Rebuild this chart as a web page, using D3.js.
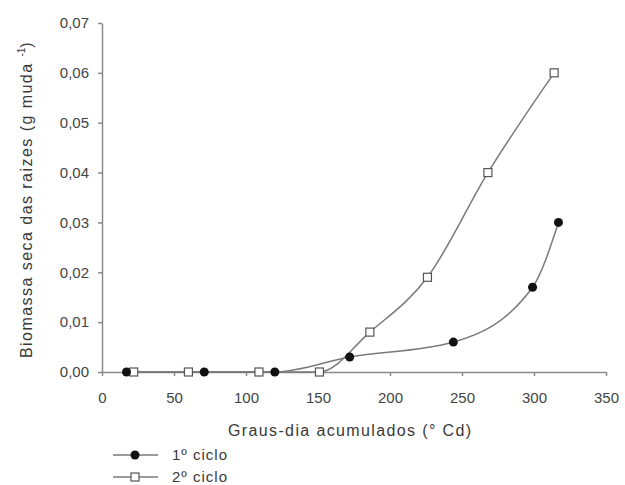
<!DOCTYPE html>
<html>
<head>
<meta charset="utf-8">
<script src="https://cdn.jsdelivr.net/npm/d3@7"></script>
<style>
body { margin: 0; background: #fff; }
text { font-family: "Liberation Sans", Arial, sans-serif; fill: #3a3a3a; }
</style>
</head>
<body>
<script>
// data
var ciclo1X = [17, 71, 120, 172, 244, 299, 317];
var ciclo1Y = [0, 0, 0, 0.003, 0.006, 0.017, 0.030];
var ciclo2X = [22, 60, 109, 151, 186, 226, 268, 314];
var ciclo2Y = [0, 0, 0, 0, 0.008, 0.019, 0.040, 0.060];
var xTicks = [0, 50, 100, 150, 200, 250, 300, 350];
var yTicks = [0, 0.01, 0.02, 0.03, 0.04, 0.05, 0.06, 0.07];
var legendLabels = ["1º ciclo", "2º ciclo"];

var width = 625, height = 485;
var plotLeft = 102, plotRight = 606, plotTop = 23, plotBottom = 372;
var axisColor = "#8a8a8a";
var lineColor = "#7a7a7a";

var svg = d3.select("body").append("svg")
    .attr("width", width)
    .attr("height", height);

var x = d3.scaleLinear().domain([0, 350]).range([plotLeft, plotRight]);
var y = d3.scaleLinear().domain([0, 0.07]).range([plotBottom, plotTop]);

var fmt = function(d){ return d3.format(".2f")(d).replace(".", ","); };

//*********** axes *******************
var gx = svg.append("g")
    .attr("transform", "translate(0," + plotBottom + ")")
    .call(d3.axisBottom(x).tickValues(xTicks).tickSize(4).tickPadding(16).tickSizeOuter(0));
var gy = svg.append("g")
    .attr("transform", "translate(" + plotLeft + ",0)")
    .call(d3.axisLeft(y).tickValues(yTicks).tickFormat(fmt).tickSize(4).tickPadding(9).tickSizeOuter(0));

[gx, gy].forEach(function(g){
    g.selectAll("path, line").attr("stroke", axisColor).attr("stroke-width", 1.5);
    g.selectAll("text").style("font-size", "15px").style("fill", "#444")
        .attr("font-family", "Liberation Sans, Arial, sans-serif");
});

// axis titles
svg.append("text")
    .attr("x", 228)
    .attr("y", 436)
    .attr("textLength", 243)
    .style("font-size", "16px")
    .text("Graus-dia acumulados (° Cd)");

var yt = svg.append("text")
    .attr("transform", "translate(32,358) rotate(-90)")
    .style("font-size", "16px");
yt.append("tspan").attr("textLength", 300).text("Biomassa seca das raizes (g muda ");
yt.append("tspan").attr("dy", -7).style("font-size", "10px").text("-1");
yt.append("tspan").attr("dy", 7).text(")");

//*********** series *******************
var line = d3.line()
    .x(function(d){ return x(d[0]); })
    .y(function(d){ return y(d[1]); })
    .curve(d3.curveMonotoneX);

var s1 = d3.zip(ciclo1X, ciclo1Y);
var s2 = d3.zip(ciclo2X, ciclo2Y);

svg.append("path").datum(s2)
    .attr("d", line)
    .attr("fill", "none")
    .attr("stroke", lineColor)
    .attr("stroke-width", 1.5);
svg.append("path").datum(s1)
    .attr("d", line)
    .attr("fill", "none")
    .attr("stroke", lineColor)
    .attr("stroke-width", 1.5);

svg.selectAll(".sq").data(s2).enter().append("rect")
    .attr("class", "sq")
    .attr("x", function(d){ return x(d[0]) - 4; })
    .attr("y", function(d){ return y(d[1]) - 4; })
    .attr("width", 8)
    .attr("height", 8)
    .attr("fill", "#fff")
    .attr("stroke", "#555")
    .attr("stroke-width", 1.2);

svg.selectAll(".dot").data(s1).enter().append("circle")
    .attr("class", "dot")
    .attr("cx", function(d){ return x(d[0]); })
    .attr("cy", function(d){ return y(d[1]); })
    .attr("r", 4.5)
    .attr("fill", "#111");

//*********** legend *******************
var lg = svg.selectAll(".lg").data(legendLabels).enter().append("g")
    .attr("class", "lg")
    .attr("transform", function(d, i){ return "translate(113," + (455 + i*22) + ")"; });
lg.append("line")
    .attr("x1", 0).attr("x2", 45)
    .attr("stroke", lineColor)
    .attr("stroke-width", 1.5);
lg.each(function(d, i){
    var g = d3.select(this);
    if (i == 0) {
        g.append("circle").attr("cx", 22).attr("r", 4.5).attr("fill", "#111");
    } else {
        g.append("rect").attr("x", 18).attr("y", -4).attr("width", 8).attr("height", 8)
            .attr("fill", "#fff").attr("stroke", "#555").attr("stroke-width", 1.2);
    }
});
lg.append("text")
    .attr("x", 59)
    .attr("y", 5)
    .attr("textLength", 55)
    .style("font-size", "15px")
    .text(function(d){ return d; });
</script>
</body>
</html>
